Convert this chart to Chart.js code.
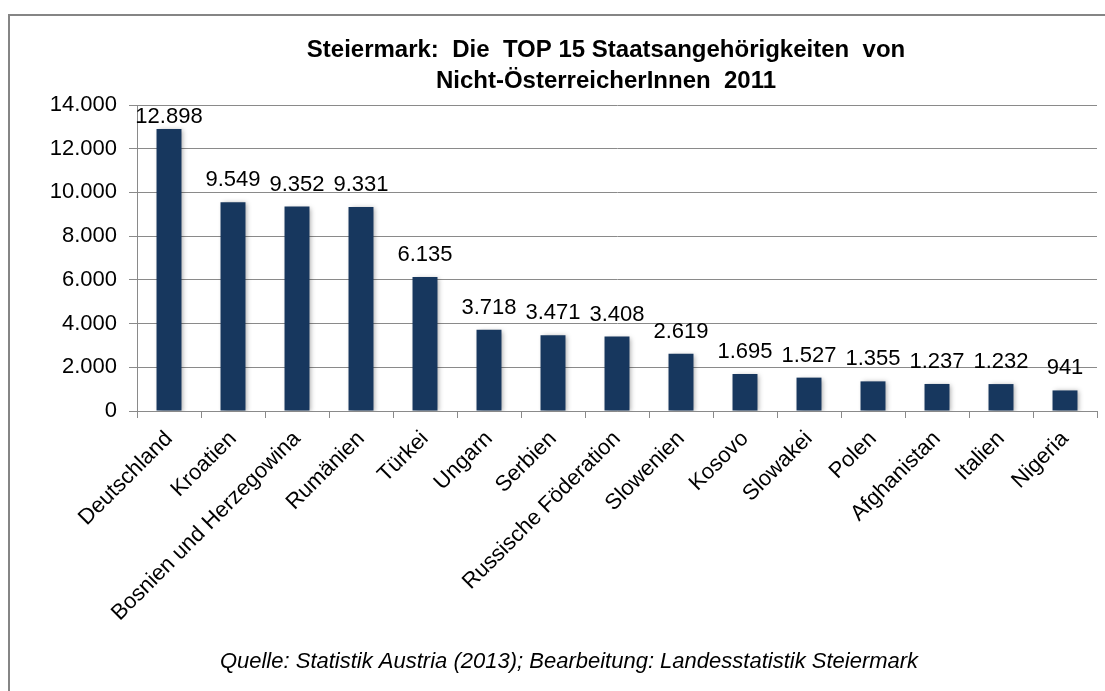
<!DOCTYPE html>
<html>
<head>
<meta charset="utf-8">
<script src="https://cdn.jsdelivr.net/npm/chart.js@4.4.0/dist/chart.umd.min.js"></script>
<style>
html,body{margin:0;padding:0;background:#fff;overflow:hidden}
#wrap{width:1105px;height:691px;position:relative}
canvas{display:block}
</style>
</head>
<body>
<div id="wrap"><canvas id="c" width="1105" height="691"></canvas></div>
<script>
const categories = ['Deutschland','Kroatien','Bosnien und Herzegowina','Rumänien','Türkei','Ungarn','Serbien','Russische Föderation','Slowenien','Kosovo','Slowakei','Polen','Afghanistan','Italien','Nigeria'];
const values = [12898, 9549, 9352, 9331, 6135, 3718, 3471, 3408, 2619, 1695, 1527, 1355, 1237, 1232, 941];
const yTicks = [0, 2000, 4000, 6000, 8000, 10000, 12000, 14000];
const titleLines = ['Steiermark:  Die  TOP 15 Staatsangehörigkeiten  von', 'Nicht-ÖsterreicherInnen  2011'];
const sourceText = 'Quelle: Statistik Austria (2013); Bearbeitung: Landesstatistik Steiermark';

const FONT = "'Liberation Sans', Arial, sans-serif";
function fmt(v){ return String(v).replace(/\B(?=(\d{3})+(?!\d))/g, '.'); }

const framePlugin = {
  id: 'frame',
  beforeDraw(chart){
    const c = chart.ctx;
    c.save();
    c.fillStyle = '#fff';
    c.fillRect(0,0,chart.width,chart.height);
    c.strokeStyle = '#858585';
    c.lineWidth = 2;
    c.strokeRect(9, 15, 1300, 900);
    c.restore();
  },
  afterDraw(chart){
    const c = chart.ctx;
    c.save();
    c.fillStyle = '#000';
    c.textAlign = 'center';
    c.textBaseline = 'alphabetic';
    c.font = "bold 24px " + FONT;
    c.fillText(titleLines[0], 606, 57);
    c.fillText(titleLines[1], 606, 88);
    c.font = "italic 22px " + FONT;
    c.fillText(sourceText, 569, 668);
    c.restore();
  }
};

const shadowPlugin = {
  id: 'barShadow',
  beforeDatasetsDraw(chart){
    const c = chart.ctx;
    c.save();
    c.shadowColor = 'rgba(0,0,0,0.35)';
    c.shadowBlur = 5;
    c.shadowOffsetX = 2;
    c.shadowOffsetY = 1;
  },
  afterDatasetsDraw(chart){
    chart.ctx.restore();
  }
};

const labelPlugin = {
  id: 'valueLabels',
  afterDatasetsDraw(chart){
    const c = chart.ctx;
    const meta = chart.getDatasetMeta(0);
    const top = chart.chartArea.top;
    c.save();
    c.fillStyle = '#000';
    c.font = "22px " + FONT;
    c.textAlign = 'center';
    c.textBaseline = 'alphabetic';
    meta.data.forEach((bar, i) => {
      const y = Math.max(bar.y - 16, top + 18);
      c.fillText(fmt(values[i]), bar.x, y);
    });
    c.restore();
  }
};

new Chart(document.getElementById('c'), {
  type: 'bar',
  data: {
    labels: categories,
    datasets: [{
      data: values,
      backgroundColor: '#17375E',
      borderWidth: 0,
      barPercentage: 0.39,
      categoryPercentage: 1.0
    }]
  },
  options: {
    responsive: false,
    animation: false,
    devicePixelRatio: 1,
    layout: { padding: { left: 20, right: 8, top: 105, bottom: 40 } },
    plugins: {
      legend: { display: false },
      title: { display: false },
      tooltip: { enabled: false }
    },
    scales: {
      x: {
        grid: { display: true, drawOnChartArea: false, drawTicks: true, tickLength: 7, color: '#8a8a8a', offset: true },
        border: { display: true, color: '#8a8a8a', width: 1 },
        ticks: {
          color: '#000',
          font: { family: FONT, size: 22 },
          minRotation: 45, maxRotation: 45,
          autoSkip: false,
          padding: 8
        },
        afterFit(scale){ scale.height = 240; }
      },
      y: {
        min: 0, max: 14000,
        afterBuildTicks(scale){ scale.ticks = yTicks.map(v => ({ value: v })); },
        grid: { color: '#8a8a8a', lineWidth: 1, tickLength: 8, drawTicks: true },
        border: { display: true, color: '#8a8a8a', width: 1 },
        ticks: {
          color: '#000',
          font: { family: FONT, size: 22 },
          padding: 12,
          callback: (v) => fmt(v)
        },
        afterFit(scale){ scale.width = 117; }
      }
    }
  },
  plugins: [framePlugin, shadowPlugin, labelPlugin]
});
</script>
</body>
</html>
